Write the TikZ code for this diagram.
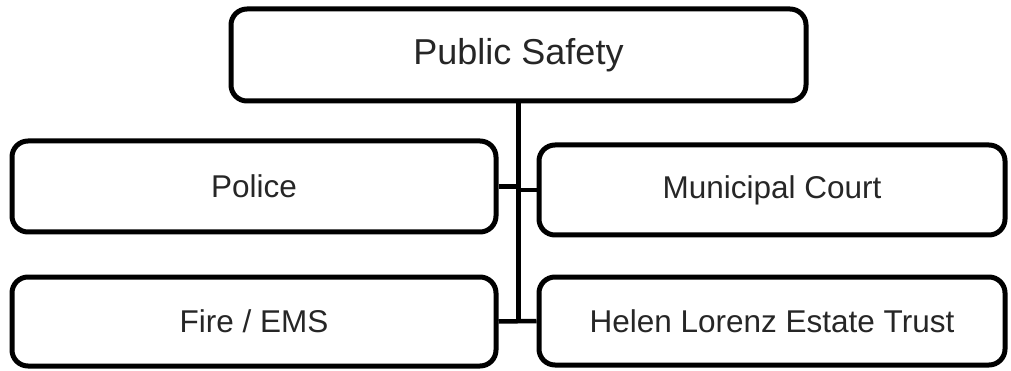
\documentclass[tikz,border=0pt]{standalone}
\usepackage{fontspec}
\setmainfont{Liberation Sans}
\usepackage{tikz}
\usepackage{xcolor}
\tikzstyle{unit} = [draw=black, line width=5pt, rounded corners=16pt, rectangle, inner sep=0pt, text=black!85, font=\fontsize{31.5}{36}\selectfont]
\tikzstyle{line} = [line width=4.5pt, -]

\begin{document}
\begin{tikzpicture}[x=1pt, y=-1pt]
        \useasboundingbox (0,0) rectangle (1011,371);

        \node[unit, minimum width=575pt, minimum height=92pt, font=\fontsize{36}{40}\selectfont] (head) at (518.5,55) {Public Safety};

        \node[unit, minimum width=484pt, minimum height=91pt] (police) at (254,186.5) {Police};
        \node[unit, minimum width=466pt, minimum height=90pt] (court) at (772,190) {Municipal Court};

        \node[unit, minimum width=484pt, minimum height=89pt] (fire) at (254,321.5) {Fire / EMS};
        \node[unit, minimum width=466pt, minimum height=88pt] (trust) at (772,321) {Helen Lorenz Estate Trust};

        % Draw Lines
        \coordinate (bus) at (518.5,323);
        \draw[line] (head.south) -- (bus);
        \draw[line] (police.east) -- (police.east -| bus);
        \draw[line] (court.west) -- (court.west -| bus);
        \draw[line] (fire.east) -- (trust.west);

    \end{tikzpicture}
\end{document}
